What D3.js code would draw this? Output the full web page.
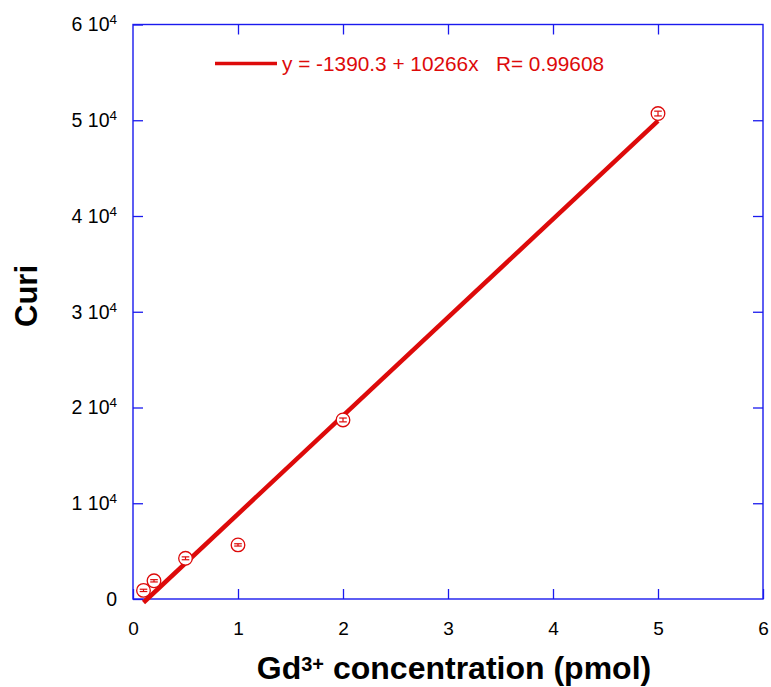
<!DOCTYPE html>
<html>
<head>
<meta charset="utf-8">
<script src="https://cdn.jsdelivr.net/npm/d3@7"></script>
<style>
  body { margin: 0; background: #fff; }
  text { font-family: "Liberation Sans", Arial, sans-serif; }
</style>
</head>
<body>
<div id="chart"></div>
<script>
// data
const conc = [0.1, 0.2, 0.5, 1, 2, 5];
const curi = [900, 1900, 4250, 5650, 18700, 50700];
const curiErr = [120, 120, 150, 120, 200, 250];
const xTicks = [0, 1, 2, 3, 4, 5, 6];
const yTicks = [0, 10000, 20000, 30000, 40000, 50000, 60000];
// fit given in the legend
const fitIntercept = -1390.3;
const fitSlope = 10266;
const fitR = 0.99608;

const W = 771, H = 687;
const MARGIN = { TOP: 24.5, BOTTOM: 88, LEFT: 133, RIGHT: 8 };
const WIDTH = W - MARGIN.LEFT - MARGIN.RIGHT;
const HEIGHT = H - MARGIN.TOP - MARGIN.BOTTOM;
const BLUE = "#1a1aee";
const RED = "#dd0a0a";

const svg = d3.select("#chart")
  .append("svg")
    .attr("width", W)
    .attr("height", H)
  .append("g")
    .attr("transform", `translate(${MARGIN.LEFT}, ${MARGIN.TOP})`);

const x = d3.scaleLinear().domain([0, 6]).range([0, WIDTH]);
const y = d3.scaleLinear().domain([0, 60000]).range([HEIGHT, 0]);

// axes, ticks inward on all four sides
function styleAxis(g) {
  g.select(".domain").remove();
  g.selectAll(".tick line").attr("stroke", BLUE).attr("stroke-width", 1.3);
}

svg.append("g")
  .attr("transform", `translate(0, ${HEIGHT})`)
  .call(d3.axisBottom(x).tickValues(xTicks).tickSize(-10).tickPadding(23).tickFormat(d3.format("d")))
  .call(styleAxis)
  .call(g => g.selectAll(".tick text").attr("font-size", 19).attr("fill", "#000")
    .attr("font-family", "Liberation Sans, Arial, sans-serif"));

svg.append("g")
  .call(d3.axisTop(x).tickValues(xTicks.slice(1, -1)).tickSize(-10).tickFormat(""))
  .call(styleAxis);

svg.append("g")
  .call(d3.axisLeft(y).tickValues(yTicks).tickSize(-10).tickPadding(16))
  .call(styleAxis)
  .call(g => g.selectAll(".tick text")
    .attr("font-size", 19.5).attr("fill", "#000")
    .attr("font-family", "Liberation Sans, Arial, sans-serif")
    .each(function(d) {
      const t = d3.select(this).text(null);
      if (d === 0) { t.text("0"); return; }
      t.append("tspan").text(`${d / 10000} 10`);
      t.append("tspan").attr("font-size", 13.5).attr("dy", -7).text("4");
    }));

svg.append("g")
  .attr("transform", `translate(${WIDTH}, 0)`)
  .call(d3.axisRight(y).tickValues(yTicks.slice(1, -1)).tickSize(-10).tickFormat(""))
  .call(styleAxis);

svg.append("rect")
  .attr("width", WIDTH)
  .attr("height", HEIGHT)
  .attr("fill", "none")
  .attr("stroke", BLUE)
  .attr("stroke-width", 1.4);

// fit line
const x0 = d3.min(conc), x1 = d3.max(conc);
svg.append("line")
  .attr("x1", x(x0)).attr("y1", y(fitIntercept + fitSlope * x0))
  .attr("x2", x(x1)).attr("y2", y(fitIntercept + fitSlope * x1))
  .attr("stroke", RED)
  .attr("stroke-width", 4.5);

// points with error bars
const pts = conc.map((c, i) => ({ c, v: curi[i], e: curiErr[i] }));
const pg = svg.selectAll(".pt").data(pts).enter().append("g").attr("class", "pt");
pg.append("circle")
  .attr("cx", d => x(d.c)).attr("cy", d => y(d.v)).attr("r", 6.8)
  .attr("fill", "#fff").attr("stroke", RED).attr("stroke-width", 1.3);
pg.append("line")
  .attr("x1", d => x(d.c)).attr("x2", d => x(d.c))
  .attr("y1", d => y(d.v - d.e)).attr("y2", d => y(d.v + d.e))
  .attr("stroke", RED).attr("stroke-width", 1.2);
[-1, 1].forEach(s => {
  pg.append("line")
    .attr("x1", d => x(d.c) - 3.8).attr("x2", d => x(d.c) + 3.8)
    .attr("y1", d => y(d.v + s * d.e)).attr("y2", d => y(d.v + s * d.e))
    .attr("stroke", RED).attr("stroke-width", 1.2);
});

// legend
svg.append("line")
  .attr("x1", 82).attr("x2", 144).attr("y1", 39).attr("y2", 39)
  .attr("stroke", RED).attr("stroke-width", 3.3);
svg.append("text")
  .attr("x", 149).attr("y", 46.5)
  .attr("font-size", 20.8).attr("fill", RED)
  .attr("xml:space", "preserve")
  .text(`y = ${fitIntercept} + ${fitSlope}x   R= ${fitR}`);

// axis titles
const xt = svg.append("text")
  .attr("x", WIDTH / 2 + 6).attr("y", HEIGHT + 80)
  .attr("text-anchor", "middle")
  .attr("font-size", 32).attr("font-weight", "bold");
xt.append("tspan").text("Gd");
xt.append("tspan").attr("font-size", 20).attr("dy", -8).text("3+");
xt.append("tspan").attr("dy", 8).text(" concentration (pmol)");

svg.append("text")
  .attr("transform", `translate(${37 - MARGIN.LEFT}, ${296 - MARGIN.TOP}) rotate(-90)`)
  .attr("text-anchor", "middle")
  .attr("font-size", 31).attr("font-weight", "bold")
  .text("Curi");
</script>
</body>
</html>
